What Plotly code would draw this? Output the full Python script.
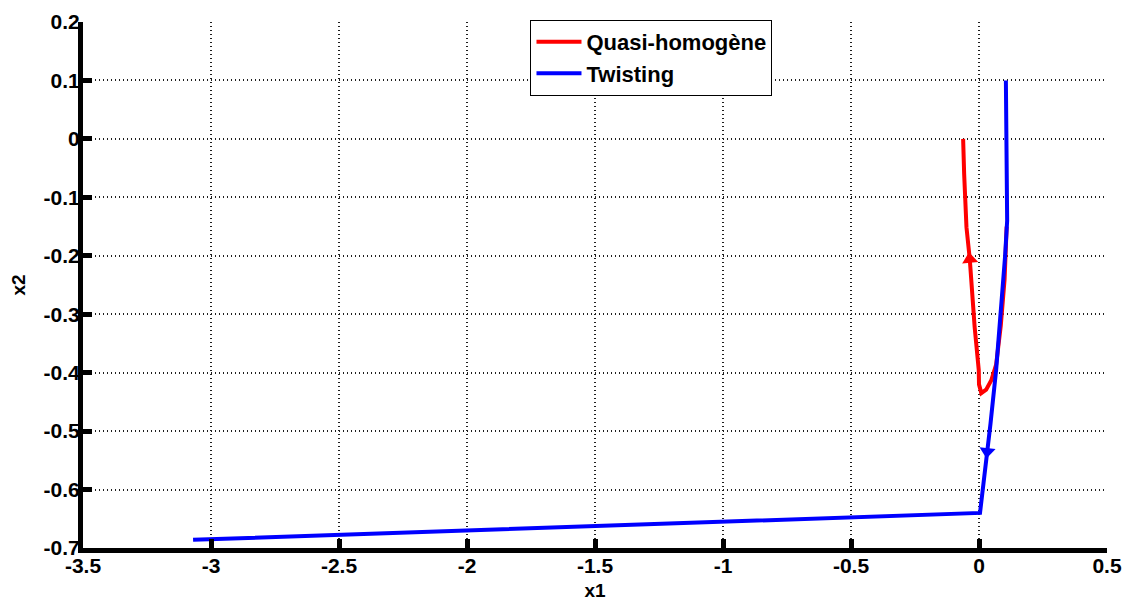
import plotly.graph_objects as go

# Trajectories
red_x = [0.108, 0.100, 0.085, 0.067, 0.048, 0.028, 0.009, 0.000, -0.001, -0.017, -0.036, -0.049, -0.058, -0.062]
red_y = [-0.15, -0.24, -0.32, -0.386, -0.413, -0.429, -0.435, -0.42, -0.395, -0.322, -0.206, -0.151, -0.06, 0.0]
blue_x = [0.105, 0.107, 0.110, 0.110, 0.102, 0.086, 0.067, 0.045, 0.032, 0.022, 0.004, -3.07]
blue_y = [0.10, 0.0, -0.10, -0.14, -0.20, -0.30, -0.395, -0.487, -0.535, -0.578, -0.640, -0.686]
red_arrow_idx = 10
blue_arrow_idx = 8

x_ticks = [-3.5, -3, -2.5, -2, -1.5, -1, -0.5, 0, 0.5]
x_labels = ["-3.5", "-3", "-2.5", "-2", "-1.5", "-1", "-0.5", "0", "0.5"]
y_ticks = [-0.7, -0.6, -0.5, -0.4, -0.3, -0.2, -0.1, 0, 0.1, 0.2]
y_labels = ["-0.7", "-0.6", "-0.5", "-0.4", "-0.3", "-0.2", "-0.1", "0", "0.1", "0.2"]

RED = "rgb(255,0,0)"
BLUE = "rgb(0,0,255)"
FONT = "Liberation Sans, Arial, sans-serif"

fig = go.Figure()
fig.add_trace(go.Scatter(x=red_x, y=red_y, mode="lines", name="Quasi-homogène",
                         line=dict(color=RED, width=4)))
fig.add_trace(go.Scatter(x=blue_x, y=blue_y, mode="lines", name="Twisting",
                         line=dict(color=BLUE, width=4)))
fig.add_trace(go.Scatter(x=[red_x[red_arrow_idx]], y=[red_y[red_arrow_idx]], mode="markers",
                         showlegend=False,
                         marker=dict(symbol="triangle-up", size=14, color=RED, angle=-6)))
fig.add_trace(go.Scatter(x=[blue_x[blue_arrow_idx]], y=[blue_y[blue_arrow_idx]], mode="markers",
                         showlegend=False,
                         marker=dict(symbol="triangle-down", size=14, color=BLUE, angle=6)))

axis_common = dict(
    showline=True, linecolor="black", linewidth=5, mirror=False,
    ticks="inside", ticklen=9, tickwidth=5, tickcolor="black",
    showgrid=True, gridcolor="rgb(30,30,30)", gridwidth=2, griddash="1px,3px",
    zeroline=False, automargin=False,
    tickfont=dict(family=FONT, size=21, color="black", weight="bold"),
)

fig.update_xaxes(range=[-3.5, 0.5], tickvals=x_ticks, ticktext=x_labels,
                 ticklabelstandoff=-5,
                 title=dict(text="x1", font=dict(family=FONT, size=19, color="black", weight="bold"),
                            standoff=9),
                 **axis_common)
fig.update_yaxes(range=[-0.7, 0.2], tickvals=y_ticks, ticktext=y_labels,
                 ticklabelstandoff=-6,
                 title=dict(text="x2", font=dict(family=FONT, size=19, color="black", weight="bold"),
                            standoff=27),
                 **axis_common)

# The page body adds an 8px margin, so the figure is sized 8px smaller than the window.
fig.update_layout(
    width=1123, height=595,
    margin=dict(l=75, r=24, t=14, b=55),
    plot_bgcolor="white", paper_bgcolor="white",
    font=dict(family=FONT, color="black"),
    legend=dict(x=0.437, y=1.004, xanchor="left", yanchor="top",
                bgcolor="white", bordercolor="black", borderwidth=1,
                itemwidth=45,
                font=dict(family=FONT, size=22, color="black", weight="bold"),
                tracegroupgap=0),
)

fig.write_html("out.html")
